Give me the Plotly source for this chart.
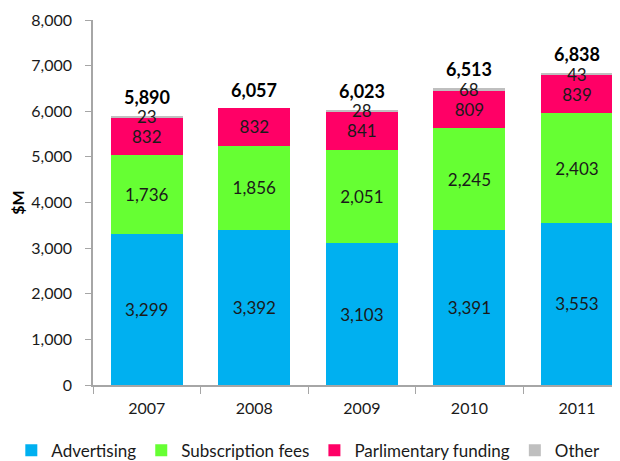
import plotly.graph_objects as go

years = ["2007", "2008", "2009", "2010", "2011"]
advertising = [3299, 3392, 3103, 3391, 3553]
subscription = [1736, 1856, 2051, 2245, 2403]
parliamentary = [832, 832, 841, 809, 839]
other = [23, 0, 28, 68, 43]
totals = [5890, 6057, 6023, 6513, 6838]

FONT = "Lato"
TXT = "#1a1a1a"

fig = go.Figure()


def fmt(v):
    return f"{v:,}"


def seg(name, vals, color, show_text=True):
    kw = dict(name=name, x=years, y=vals,
              marker=dict(color=color, line=dict(width=0)))
    if show_text:
        kw.update(text=[fmt(v) for v in vals], textposition="inside",
                  insidetextanchor="middle", textangle=0,
                  textfont=dict(family=FONT, size=17, color=TXT))
    else:
        kw.update(textposition="none")
    fig.add_trace(go.Bar(**kw))


seg("Advertising", advertising, "#00B0F0")
seg("Subscription fees", subscription, "#66FF33")
seg("Parlimentary funding", parliamentary, "#FF0066")
seg("Other", other, "#BFBFBF", show_text=False)

# "Other" value labels, centred on the thin segments (overflowing)
for i in range(len(years)):
    if other[i] > 0:
        base = advertising[i] + subscription[i] + parliamentary[i]
        fig.add_annotation(x=i, y=base + other[i] / 2, text=fmt(other[i]),
                           showarrow=False, yanchor="middle",
                           font=dict(family=FONT, size=17, color=TXT))

# totals
for i in range(len(years)):
    fig.add_annotation(x=i, y=totals[i], text=f"<b>{fmt(totals[i])}</b>",
                       showarrow=False, yanchor="middle", yshift=19,
                       font=dict(family=FONT, size=18, color="#000000"))

fig.update_layout(
    barmode="stack",
    bargap=0.33,
    width=612, height=453,
    margin=dict(l=85, r=0, t=12, b=76, autoexpand=False),
    paper_bgcolor="white", plot_bgcolor="white",
    font=dict(family=FONT, size=16, color=TXT),
    showlegend=True,
    legend=dict(orientation="h", x=-0.155, xanchor="left", y=-0.18, yanchor="middle",
                font=dict(family=FONT, size=17, color=TXT), traceorder="normal",
                itemwidth=30, bgcolor="rgba(0,0,0,0)"),
    xaxis=dict(type="category", range=[-0.5, 4.40], showgrid=False,
               showline=True, linecolor="#A6A6A6", linewidth=1.5,
               ticks="outside", tickson="boundaries", ticklen=7, tickcolor="#A6A6A6",
               tickfont=dict(family=FONT, size=16, color=TXT), ticklabelstandoff=8),
    yaxis=dict(range=[0, 8000], dtick=1000, tickformat=",d", showgrid=False,
               showline=True, linecolor="#A6A6A6", linewidth=1.5,
               ticks="outside", ticklen=6, tickcolor="#A6A6A6",
               tickfont=dict(family=FONT, size=16, color=TXT), ticklabelstandoff=10,
               title=dict(text="<b>$M</b>", font=dict(family=FONT, size=16, color="#000000"),
                          standoff=9),
               zeroline=False),
)

fig.write_html("out.html")
